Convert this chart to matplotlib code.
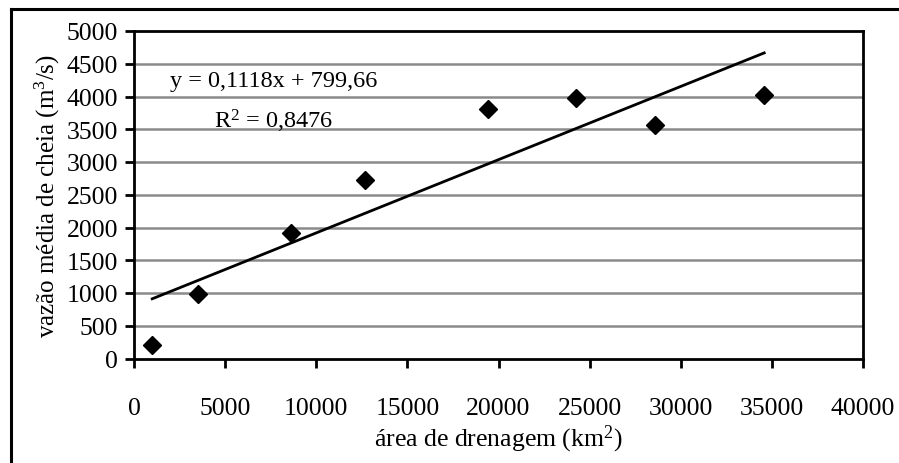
import numpy as np
import matplotlib
matplotlib.use('Agg')
import matplotlib.pyplot as plt
from matplotlib.lines import Line2D

# drainage area (km2) and mean flood discharge (m3/s)
area = [1000, 3530, 8640, 12700, 19430, 24250, 28570, 34580]
vazao = [200, 990, 1910, 2720, 3810, 3970, 3570, 4030]

# linear trendline given on the chart
slope = 0.1118
intercept = 799.66
r2 = 0.8476

x_ticks = [0, 5000, 10000, 15000, 20000, 25000, 30000, 35000, 40000]
y_ticks = [0, 500, 1000, 1500, 2000, 2500, 3000, 3500, 4000, 4500, 5000]

plt.rcParams['font.family'] = ['Liberation Serif', 'DejaVu Serif']
plt.rcParams['mathtext.fontset'] = 'custom'
plt.rcParams['mathtext.rm'] = 'Liberation Serif'
plt.rcParams['mathtext.it'] = 'Liberation Serif'

fig = plt.figure(figsize=(8.99, 4.64), dpi=100)
ax = fig.add_axes([134 / 899, 1 - 359.5 / 464, 729 / 899, 327.5 / 464])

# horizontal gridlines like excel
for yv in y_ticks[1:-1]:
    ax.axhline(yv, color='#8a8a8a', lw=1.8, zorder=1)

# trendline over the data range
xl = np.array([min(area), max(area)])
ax.plot(xl, slope * xl + intercept, color='black', lw=2, zorder=2)

ax.plot(area, vazao, linestyle='none', marker='D', markersize=9.5,
        color='black', zorder=3)

ax.set_xlim(0, 40000)
ax.set_ylim(0, 5000)
ax.set_xticks(x_ticks)
ax.set_yticks(y_ticks)
ax.tick_params(axis='x', direction='out', length=6.5, width=2, pad=21, labelsize=18.5)
ax.tick_params(axis='y', direction='out', length=6.5, width=2, pad=5, labelsize=18.5)
for s in ax.spines.values():
    s.set_linewidth(2)
    s.set_color('black')

ax.set_xlabel('área de drenagem (km$^2$)', fontsize=18.5, labelpad=3)
ax.set_ylabel('vazão média de cheia (m$^3$/s)', fontsize=18, labelpad=3)

eq = 'y = ' + ('%.4f' % slope).replace('.', ',') + 'x + ' + ('%.2f' % intercept).replace('.', ',')
ax.text(0.192, 0.85, eq, transform=ax.transAxes, ha='center', va='center', fontsize=17.5)
ax.text(0.192, 0.726, 'R$^2$ = ' + ('%.4f' % r2).replace('.', ','), transform=ax.transAxes,
        ha='center', va='center', fontsize=17.5)

# outer frame of the chart object (only top and left edge inside the picture)
fig.add_artist(Line2D([11 / 899, 1], [1 - 10 / 464, 1 - 10 / 464], color='black', lw=2.2,
                      transform=fig.transFigure))
fig.add_artist(Line2D([11 / 899, 11 / 899], [0, 1 - 10 / 464], color='black', lw=2.2,
                      transform=fig.transFigure))

fig.savefig('out.png', dpi=100)
